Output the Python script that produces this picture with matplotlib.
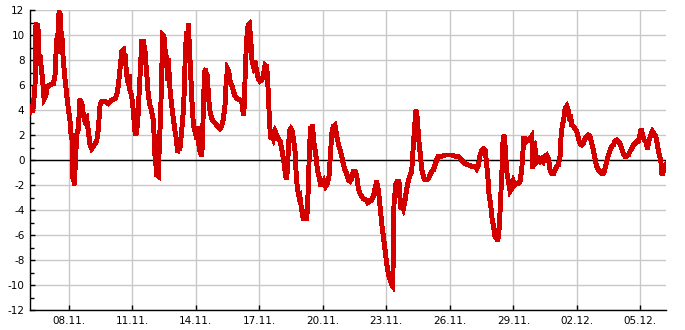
import matplotlib
matplotlib.use("Agg")
import matplotlib.pyplot as plt
import matplotlib.dates as mdates
from matplotlib.ticker import MultipleLocator
import pandas as pd

plt.rcParams["axes.unicode_minus"] = False

# hours after 06.11. 00:00 and temperature
stunden = [
    4.0, 5.0, 5.9, 7.0, 8.5, 9.7, 10.8, 11.5, 12.2, 13.4, 14.0, 15.3, 17.2, 18.4, 19.9,
    22.1, 23.7, 26.7, 30.5, 32.4, 34.2, 35.2, 36.1, 38.0, 39.0, 39.9, 41.8, 43.7, 45.6,
    47.5, 49.4, 50.1, 51.3, 52.0, 52.4, 53.2, 53.9, 55.0, 56.9, 58.8, 60.7, 61.5, 62.6,
    64.5, 66.4, 68.3, 70.2, 72.0, 73.9, 75.8, 79.6, 81.5, 83.4, 85.3, 89.1, 92.8, 96.6,
    100.4, 102.3, 104.2, 106.1, 108.0,
    109.8, 110.5, 111.7, 113.6, 115.5, 116.5, 117.3, 119.2, 121.1, 123.0, 124.1, 125.7,
    126.8, 127.9, 129.4, 130.6, 132.5, 134.4, 135.5, 137.0, 138.1, 140.0, 141.9, 143.8,
    144.9, 146.1, 147.0, 147.6, 149.5, 150.6, 152.1, 153.3, 154.4, 155.9, 157.0, 158.9,
    159.8, 160.8, 162.7, 164.6, 166.5, 168.4, 170.3, 171.0, 172.2, 174.0, 175.9, 177.8,
    179.0, 180.1, 181.6, 182.5, 183.5, 184.6, 186.1, 187.6, 189.2, 191.1, 192.9, 193.8,
    194.8, 196.7, 198.6, 199.7, 200.5, 202.0, 203.5, 204.2, 205.0, 206.5, 208.1,
    210.0, 211.9, 215.7, 219.4, 221.3, 223.2, 225.1, 226.2, 227.8, 229.3, 230.8, 232.7,
    234.6, 236.5, 239.1, 242.1, 244.0, 245.9, 247.0, 248.2, 249.7, 251.2, 252.7, 254.2,
    255.7, 257.2, 259.1, 261.0, 262.9, 264.8, 266.7, 268.6, 270.5, 272.4, 274.3, 275.4,
    276.9, 278.4, 279.9, 281.8, 283.7, 285.6, 287.5, 289.4, 291.3, 292.8, 294.3, 295.8,
    296.9, 298.1, 299.6, 301.1, 302.6, 304.5, 305.6, 307.1, 309.4,
    310.1, 312.0, 313.9, 315.8, 317.7, 319.6, 320.7, 322.2, 323.0, 324.1, 326.0, 327.9,
    329.8, 331.6, 333.5, 335.4, 337.3, 339.2, 341.1, 343.0, 344.5, 346.0, 347.9, 349.8,
    351.7, 353.6, 355.5, 357.4, 359.2, 361.1, 363.0, 364.9, 366.8, 368.7, 370.6, 372.5,
    374.4, 376.3, 378.1, 380.0, 381.9, 385.7, 387.0, 389.5, 391.4, 393.3, 395.2, 397.0,
    398.9, 400.8, 402.7, 404.6, 406.5, 408.4, 410.3, 412.2, 414.1, 415.2, 416.0,
    416.6, 418.5, 420.4, 422.3, 424.2, 425.7, 427.2, 429.1, 431.0, 432.9, 434.8, 436.7,
    438.6, 440.5, 441.6, 443.1, 444.6, 446.1, 448.0, 449.9, 451.8, 453.7, 455.6, 457.5,
    459.4, 461.2, 463.1, 465.0, 466.9, 470.7, 474.5, 478.3, 482.0, 485.8, 489.6, 493.4,
    497.2, 500.9, 504.7, 508.5, 510.4, 512.3, 514.2,
    516.1, 518.0, 519.9, 521.8, 522.9, 524.4, 526.3, 527.8, 529.3, 530.8, 532.3, 533.2,
    533.9, 535.4, 536.9, 538.0, 539.1, 540.3, 541.4, 542.9, 544.4, 546.3, 548.2, 550.1,
    552.0, 553.9, 555.8, 557.7, 559.6, 561.5, 562.6, 563.7, 565.6, 567.1, 569.0, 570.9,
    572.8, 573.9, 575.4, 576.9, 578.5, 580.4, 582.2, 584.1, 586.0, 587.9, 589.8, 591.7,
    593.6, 595.5, 597.4, 599.3, 601.1, 603.0, 604.9, 606.1, 607.6, 608.7, 610.6, 612.5,
    614.4, 616.3, 616.8,
    618.1, 620.0, 621.9, 623.8, 625.7, 627.5, 629.4, 631.3, 633.2, 635.1, 637.0, 638.9,
    640.8, 642.7, 644.6, 646.4, 648.3, 650.2, 652.1, 654.0, 655.9, 657.8, 659.7, 661.6,
    663.5, 665.3, 667.2, 669.1, 671.0, 672.9, 674.8, 676.7, 678.6, 680.5, 682.4, 684.2,
    686.1, 688.0, 689.9, 691.8, 693.7, 695.6, 696.7, 698.2, 700.1, 702.0, 703.9, 705.8,
    707.7, 709.6, 711.5, 713.4, 715.2, 717.1, 719.0, 720.5, 722.0, 723.6, 725.1,
]
temperatur = [
    3.8, 4.2, 4.4, 3.8, 4.9, 6.0, 11.0, 8.0, 10.9, 10.3, 7.6, 8.4, 7.1, 6.3, 4.9,
    5.2, 5.9, 6.0, 6.1, 6.8, 9.7, 8.5, 11.6, 11.9, 9.8, 10.3, 7.9, 6.5, 5.2,
    4.1, 3.1, 2.3, 1.7, 2.1, -1.5, 0.3, -2.0, -0.9, 2.0, 2.5, 4.9, 3.8, 4.7,
    3.6, 3.1, 3.3, 2.3, 1.2, 0.9, 1.1, 1.5, 2.5, 4.4, 4.7, 4.7, 4.5, 4.8,
    4.9, 5.2, 6.0, 7.3, 8.7,
    8.8, 7.6, 8.5, 6.8, 6.0, 6.8, 5.6, 5.2, 3.9, 2.3, 2.0, 2.8,
    3.9, 5.7, 7.6, 9.5, 9.5, 8.7, 7.6, 6.3, 5.2, 4.4, 3.9, 3.2,
    1.7, -0.4, 1.2, -1.2, -1.3, 1.2, 3.6, 7.1, 10.0, 9.9, 8.9, 8.1,
    6.4, 8.1, 5.7, 4.4, 3.3, 2.3, 1.5, 0.6, 0.9, 0.9, 2.3, 3.9,
    5.7, 8.7, 10.3, 9.0, 10.9, 9.2, 6.8, 4.7, 2.8, 2.3, 1.7, 2.7,
    1.5, 0.7, 0.3, 1.7, 4.4, 7.1, 7.3, 5.0, 6.8, 4.9, 3.9,
    3.3, 3.1, 2.8, 2.5, 2.7, 3.3, 4.4, 6.0, 7.3, 7.1, 6.3, 6.0,
    5.5, 5.1, 4.9, 4.8, 4.7, 3.6, 4.4, 7.6, 9.7, 10.8, 10.9, 9.7,
    7.9, 7.5, 7.9, 7.1, 6.5, 6.3, 6.4, 6.8, 7.6, 7.5, 5.2, 3.1,
    1.7, 2.0, 1.7, 2.3, 2.0, 1.7, 1.5, 0.9, 0.1, -0.7, -1.5, -0.9,
    0.9, 2.3, 2.5, 2.3, 1.7, 0.7, -0.9, -2.3, -3.1,
    -3.0, -4.0, -4.8, -4.0, -4.8, -2.1, 0.8, 2.7, 1.5, 2.8, 1.3, 0.5,
    -0.8, -1.3, -2.0, -2.0, -1.7, -2.1, -1.9, -1.3, 0.3, 2.1, 2.7, 2.8,
    1.9, 1.3, 0.8, 0.3, -0.3, -0.8, -1.1, -1.6, -1.7, -1.5, -0.9, -0.9,
    -1.3, -2.3, -2.7, -2.9, -3.1, -3.2, -3.4, -3.3, -3.2, -2.9, -2.3, -1.7,
    -2.4, -3.7, -5.1, -6.1, -7.2, -8.3, -9.1, -9.6, -10.0, -10.1, -7.0,
    -3.6, -2.0, -1.7, -1.7, -3.9, -3.6, -3.9, -3.3, -2.3, -1.7, -1.2, -0.9,
    1.2, 3.1, 4.0, 3.3, 1.7, 0.7, -0.7, -1.3, -1.6, -1.6, -1.5, -1.2,
    -0.9, -0.8, -0.4, 0.0, 0.3, 0.3, 0.4, 0.4, 0.4, 0.3, 0.3, 0.0,
    -0.3, -0.4, -0.5, -0.5, -0.7, -0.4, 0.4,
    0.8, 0.9, 0.8, -0.4, -1.2, -2.8, -3.6, -4.7, -5.2, -6.0, -6.3, -5.5,
    -6.5, -6.0, -4.1, -2.3, -0.7, 1.7, 2.0, 0.9, -0.9, -1.7, -2.5, -2.3,
    -1.7, -2.0, -1.9, -1.9, -1.7, -0.7, 0.4, 1.7, 1.7, 1.5, 1.6, 1.7,
    1.9, -0.7, 1.5, 0.7, -0.1, 0.1, -0.1, 0.1, -0.1, 0.3, 0.4, 0.1,
    -0.8, -1.1, -1.1, -0.8, -0.5, -0.4, 0.3, 2.0, 2.8, 3.1, 4.1, 4.3,
    3.9, 3.1, 3.6,
    2.8, 2.7, 2.5, 2.3, 1.7, 1.3, 1.2, 1.3, 1.7, 1.9, 2.0, 1.9,
    1.3, 0.8, 0.1, -0.5, -0.8, -0.9, -1.1, -1.1, -0.7, -0.1, 0.4, 0.8,
    1.1, 1.2, 1.5, 1.6, 1.5, 1.3, 0.9, 0.5, 0.3, 0.3, 0.4, 0.7,
    0.9, 1.2, 1.3, 1.5, 1.5, 2.1, 2.5, 2.1, 1.6, 1.5, 0.9, 1.6,
    2.0, 2.3, 2.1, 1.9, 1.2, 0.5, 0.0, -1.2, -0.9, -0.4, -0.3,
]

start = pd.Timestamp("2023-11-06")
zeiten = start + pd.to_timedelta(stunden, unit="h")
tick_tage = pd.date_range("2023-11-08", "2023-12-05", freq="3D")

fig = plt.figure(figsize=(6.85, 3.3), dpi=100)
ax = fig.add_axes([30 / 685, 20 / 330, 636 / 685, 300 / 330])

ax.plot(zeiten, temperatur, color="#d40000", lw=2.8, antialiased=False,
        solid_joinstyle="miter", zorder=3)
ax.axhline(0, color="black", lw=1, zorder=2)

ax.set_ylim(-12, 12)
ax.set_xlim(start + pd.Timedelta(hours=4), start + pd.Timedelta(hours=725))
ax.yaxis.set_major_locator(MultipleLocator(2))
ax.yaxis.set_minor_locator(MultipleLocator(1))
ax.set_xticks(tick_tage)
ax.xaxis.set_major_formatter(mdates.DateFormatter("%d.%m."))

ax.grid(True, which="major", color="#c8c8c8", lw=1, zorder=0)
ax.set_axisbelow(True)
for s in ["top", "right"]:
    ax.spines[s].set_visible(False)
for s in ["left", "bottom"]:
    ax.spines[s].set_linewidth(1)

ax.tick_params(axis="both", which="major", direction="in", length=3.6, width=1,
               labelsize=7.5, colors="black")
ax.tick_params(axis="y", which="minor", direction="in", length=2.6, width=1)
ax.tick_params(axis="y", pad=4)
ax.tick_params(axis="x", pad=4)

fig.savefig("out.png", dpi=100)
